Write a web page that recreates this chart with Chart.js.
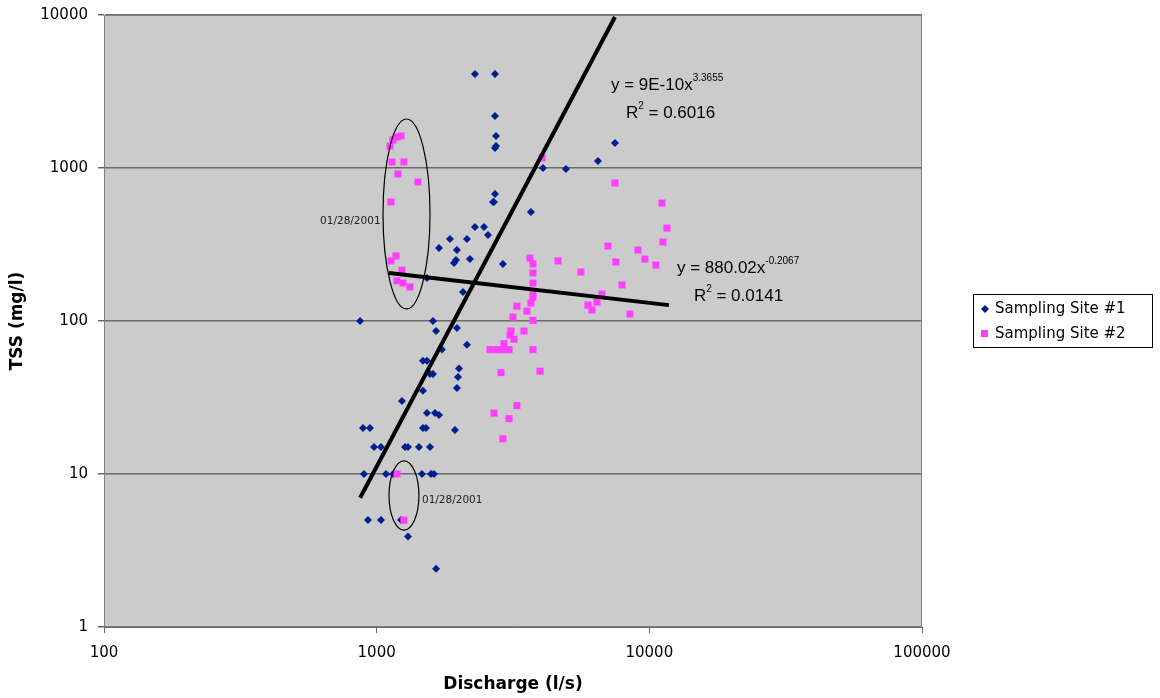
<!DOCTYPE html>
<html>
<head>
<meta charset="utf-8">
<title>TSS vs Discharge</title>
<script src="https://cdn.jsdelivr.net/npm/chart.js@4.4.0/dist/chart.umd.min.js"></script>
<style>
  html, body { margin: 0; padding: 0; background: #fff; }
  #wrap { width: 1160px; height: 698px; }
</style>
</head>
<body>
<div id="wrap"><canvas id="tss-discharge" width="1160" height="698"></canvas></div>
<script>
// discharge (l/s) and TSS (mg/l)
var site1X = [869, 891, 945, 898, 978, 1037, 929, 1037, 1082, 1148, 1228, 1238, 1303, 1270, 1303, 1429,
  1569, 1466, 1582, 1623, 1478, 1516, 1529, 1637, 1693, 1937, 1651, 1478, 1478, 1529, 1569, 1609,
  1736, 1970, 1987, 2004, 2143, 1609, 1651, 1970, 2073, 1529, 1693, 1857, 1970, 1954, 1921, 2143,
  2198, 2904, 2293, 2475, 2560, 2716, 2692, 2671, 3680, 2293, 2716, 2716, 2739, 2739, 2716, 4072,
  4946, 6479, 7478];
var site1Y = [100, 20, 20, 10, 15, 15, 5, 5, 10, 10, 5, 30, 3.9, 15, 15, 15,
  15, 10, 10, 10, 20, 20, 25, 25, 24.3, 19.4, 2.4, 35, 55, 55, 45, 45,
  65, 36.5, 43, 49, 70, 100, 86, 90, 155, 191, 300, 344, 291, 250, 239, 344,
  254, 236, 411, 411, 365, 676, 600, 600, 516, 4115, 4115, 2187, 1619, 1392, 1351, 1000,
  985, 1111, 1457];

var site2X = [1119, 1148, 1187, 1228, 1138, 1259, 1197, 1417, 1128, 1177, 1128, 1238, 1187, 1249, 1325,
  1187, 1259,
  2692, 3269, 3057, 2904, 2857, 3972, 2604, 2761, 2904, 3057, 3743, 2929, 3189, 3083, 3109, 3469,
  3162, 3743, 3269, 3558, 3649, 3743, 3743, 3743, 3743, 3743, 3680, 4622, 5613, 4040,
  7050, 9085, 7542, 9636, 10572, 7935, 6701, 5954, 6159, 6425, 8491, 7478, 11122, 11602, 11217];
var site2Y = [1392, 1524, 1594, 1619, 1094, 1094, 914, 810, 600, 266, 247, 215, 183, 177, 167,
  10, 5,
  25, 28, 23, 17, 46, 47, 65, 65, 65, 65, 65, 71, 76, 81, 86, 86,
  106, 101, 125, 116, 258, 236, 206, 177, 155, 143, 131, 247, 209, 1162,
  309, 291, 243, 254, 232, 172, 150, 127, 118, 133, 111, 798, 590, 405, 328];

// power trendlines from the chart, end points at the range of each site
var trend1X = [870, 7480];
var trend1Y = [7.0, 9700];
var trend2X = [1110, 11800];
var trend2Y = [206, 127];

var xTicks = [100, 1000, 10000, 100000];
var yTicks = [1, 10, 100, 1000, 10000];

var seriesNames = ['Sampling Site #1', 'Sampling Site #2'];
var seriesColors = ['#001F8F', '#FF3FFF'];

// circled event of 01/28/2001 (data bounds)
var circleX = [[1055, 1569], [1110, 1429]];
var circleY = [[120, 2090], [4.3, 12.2]];
var circleNote = '01/28/2001';
var noteX = [620, 1466];
var noteY = [450, 6.76];

function pairs(xs, ys) {
  return xs.map(function(x, i) { return {x: x, y: ys[i]}; });
}

var SANS = '"DejaVu Sans", Verdana, sans-serif';
var ARIAL = '"Liberation Sans", Arial, sans-serif';

function supText(ctx, x, y, base, sup, tail) {
  ctx.font = '17px ' + ARIAL;
  ctx.fillText(base, x, y);
  var w = ctx.measureText(base).width;
  ctx.font = '10px ' + ARIAL;
  ctx.fillText(sup, x + w, y - 7);
  var w2 = ctx.measureText(sup).width;
  if (tail) {
    ctx.font = '17px ' + ARIAL;
    ctx.fillText(tail, x + w + w2, y);
  }
}

var chartDecor = {
  id: 'chartDecor',
  beforeDraw: function(chart) {
    var a = chart.chartArea, ctx = chart.ctx;
    ctx.save();
    ctx.fillStyle = '#CBCBCB';
    ctx.fillRect(a.left, a.top, a.right - a.left, a.bottom - a.top);
    ctx.restore();
  },
  afterDatasetsDraw: function(chart) {
    var a = chart.chartArea, ctx = chart.ctx;
    var sx = chart.scales.x, sy = chart.scales.y;
    ctx.save();
    // plot frame
    ctx.strokeStyle = '#808080';
    ctx.lineWidth = 1;
    ctx.strokeRect(a.left + 0.5, a.top + 0.5, a.right - a.left - 1, a.bottom - a.top - 1);

    // ellipses round the 01/28/2001 samples
    ctx.strokeStyle = '#000';
    ctx.lineWidth = 1.2;
    for (var i = 0; i < circleX.length; i++) {
      var x0 = sx.getPixelForValue(circleX[i][0]), x1 = sx.getPixelForValue(circleX[i][1]);
      var y0 = sy.getPixelForValue(circleY[i][1]), y1 = sy.getPixelForValue(circleY[i][0]);
      ctx.beginPath();
      ctx.ellipse((x0 + x1) / 2, (y0 + y1) / 2, (x1 - x0) / 2, (y1 - y0) / 2, 0, 0, Math.PI * 2);
      ctx.stroke();
    }
    ctx.fillStyle = '#222';
    ctx.textBaseline = 'middle';
    ctx.textAlign = 'left';
    ctx.font = '10.5px ' + SANS;
    for (var j = 0; j < noteX.length; j++) {
      ctx.fillText(circleNote, sx.getPixelForValue(noteX[j]), sy.getPixelForValue(noteY[j]));
    }

    // trendline equations
    ctx.fillStyle = '#000';
    supText(ctx, sx.getPixelForValue(7230), sy.getPixelForValue(3486), 'y = 9E-10x', '3.3655');
    supText(ctx, sx.getPixelForValue(8207), sy.getPixelForValue(2287), 'R', '2', ' = 0.6016');
    supText(ctx, sx.getPixelForValue(12627), sy.getPixelForValue(222), 'y = 880.02x', '-0.2067');
    supText(ctx, sx.getPixelForValue(14571), sy.getPixelForValue(145.6), 'R', '2', ' = 0.0141');
    ctx.restore();
  },
  afterDraw: function(chart) {
    var ctx = chart.ctx;
    ctx.save();
    // legend box
    ctx.fillStyle = '#fff';
    ctx.fillRect(973, 294, 179, 53);
    ctx.strokeStyle = '#000';
    ctx.lineWidth = 1;
    ctx.strokeRect(973.5, 294.5, 179, 53);
    ctx.font = '15px ' + SANS;
    ctx.textBaseline = 'middle';
    ctx.fillStyle = '#000';
    ctx.fillText(seriesNames[0], 995, 309);
    ctx.fillText(seriesNames[1], 995, 334);
    // markers
    ctx.fillStyle = seriesColors[0];
    ctx.beginPath();
    ctx.moveTo(985, 305); ctx.lineTo(989, 309); ctx.lineTo(985, 313); ctx.lineTo(981, 309);
    ctx.closePath();
    ctx.fill();
    ctx.fillStyle = seriesColors[1];
    ctx.fillRect(981, 330, 7, 7);
    ctx.restore();
  }
};

var ctx = document.getElementById('tss-discharge');
new Chart(ctx, {
  type: 'scatter',
  data: {
    datasets: [
      {
        label: 'trend1', data: pairs(trend1X, trend1Y), showLine: true,
        borderColor: '#000', borderWidth: 4, pointRadius: 0, order: 0
      },
      {
        label: 'trend2', data: pairs(trend2X, trend2Y), showLine: true,
        borderColor: '#000', borderWidth: 4, pointRadius: 0, order: 0
      },
      {
        label: seriesNames[1], data: pairs(site2X, site2Y),
        pointStyle: 'rect', pointRadius: 5, borderWidth: 0,
        backgroundColor: seriesColors[1], order: 1
      },
      {
        label: seriesNames[0], data: pairs(site1X, site1Y),
        pointStyle: 'rectRot', pointRadius: 4, borderWidth: 0,
        backgroundColor: seriesColors[0], order: 2
      }
    ]
  },
  options: {
    responsive: false,
    animation: false,
    devicePixelRatio: 1,
    layout: { padding: { top: 15, right: 238, left: 0, bottom: 0 } },
    plugins: { legend: { display: false }, tooltip: { enabled: false } },
    scales: {
      x: {
        type: 'logarithmic', min: 100, max: 100000,
        afterBuildTicks: function(s) { s.ticks = xTicks.map(function(v) { return {value: v}; }); },
        afterFit: function(s) { s.height = 71; },
        ticks: { font: { family: SANS, size: 15 }, color: '#000', padding: 11, maxRotation: 0,
          callback: function(v) { return String(v); } },
        grid: { drawOnChartArea: false, tickLength: 6, tickColor: '#666', lineWidth: 1 },
        border: { color: '#666', width: 1 },
        title: { display: true, text: 'Discharge (l/s)', color: '#000',
          font: { family: SANS, size: 17, weight: 'bold' }, padding: { top: 0, bottom: 3 } }
      },
      y: {
        type: 'logarithmic', min: 1, max: 10000,
        afterBuildTicks: function(s) { s.ticks = yTicks.map(function(v) { return {value: v}; }); },
        afterFit: function(s) { s.width = 104; s.paddingTop = 0; s.paddingBottom = 0; },
        ticks: { font: { family: SANS, size: 15 }, color: '#000', padding: 10,
          callback: function(v) { return String(v); } },
        grid: { color: '#6a6a6a', lineWidth: 1.5, tickLength: 6, tickColor: '#666' },
        border: { color: '#666', width: 1 },
        title: { display: true, text: 'TSS (mg/l)', color: '#000',
          font: { family: SANS, size: 17, weight: 'bold' }, padding: { top: 7, bottom: 0 } }
      }
    }
  },
  plugins: [chartDecor]
});
</script>
</body>
</html>
